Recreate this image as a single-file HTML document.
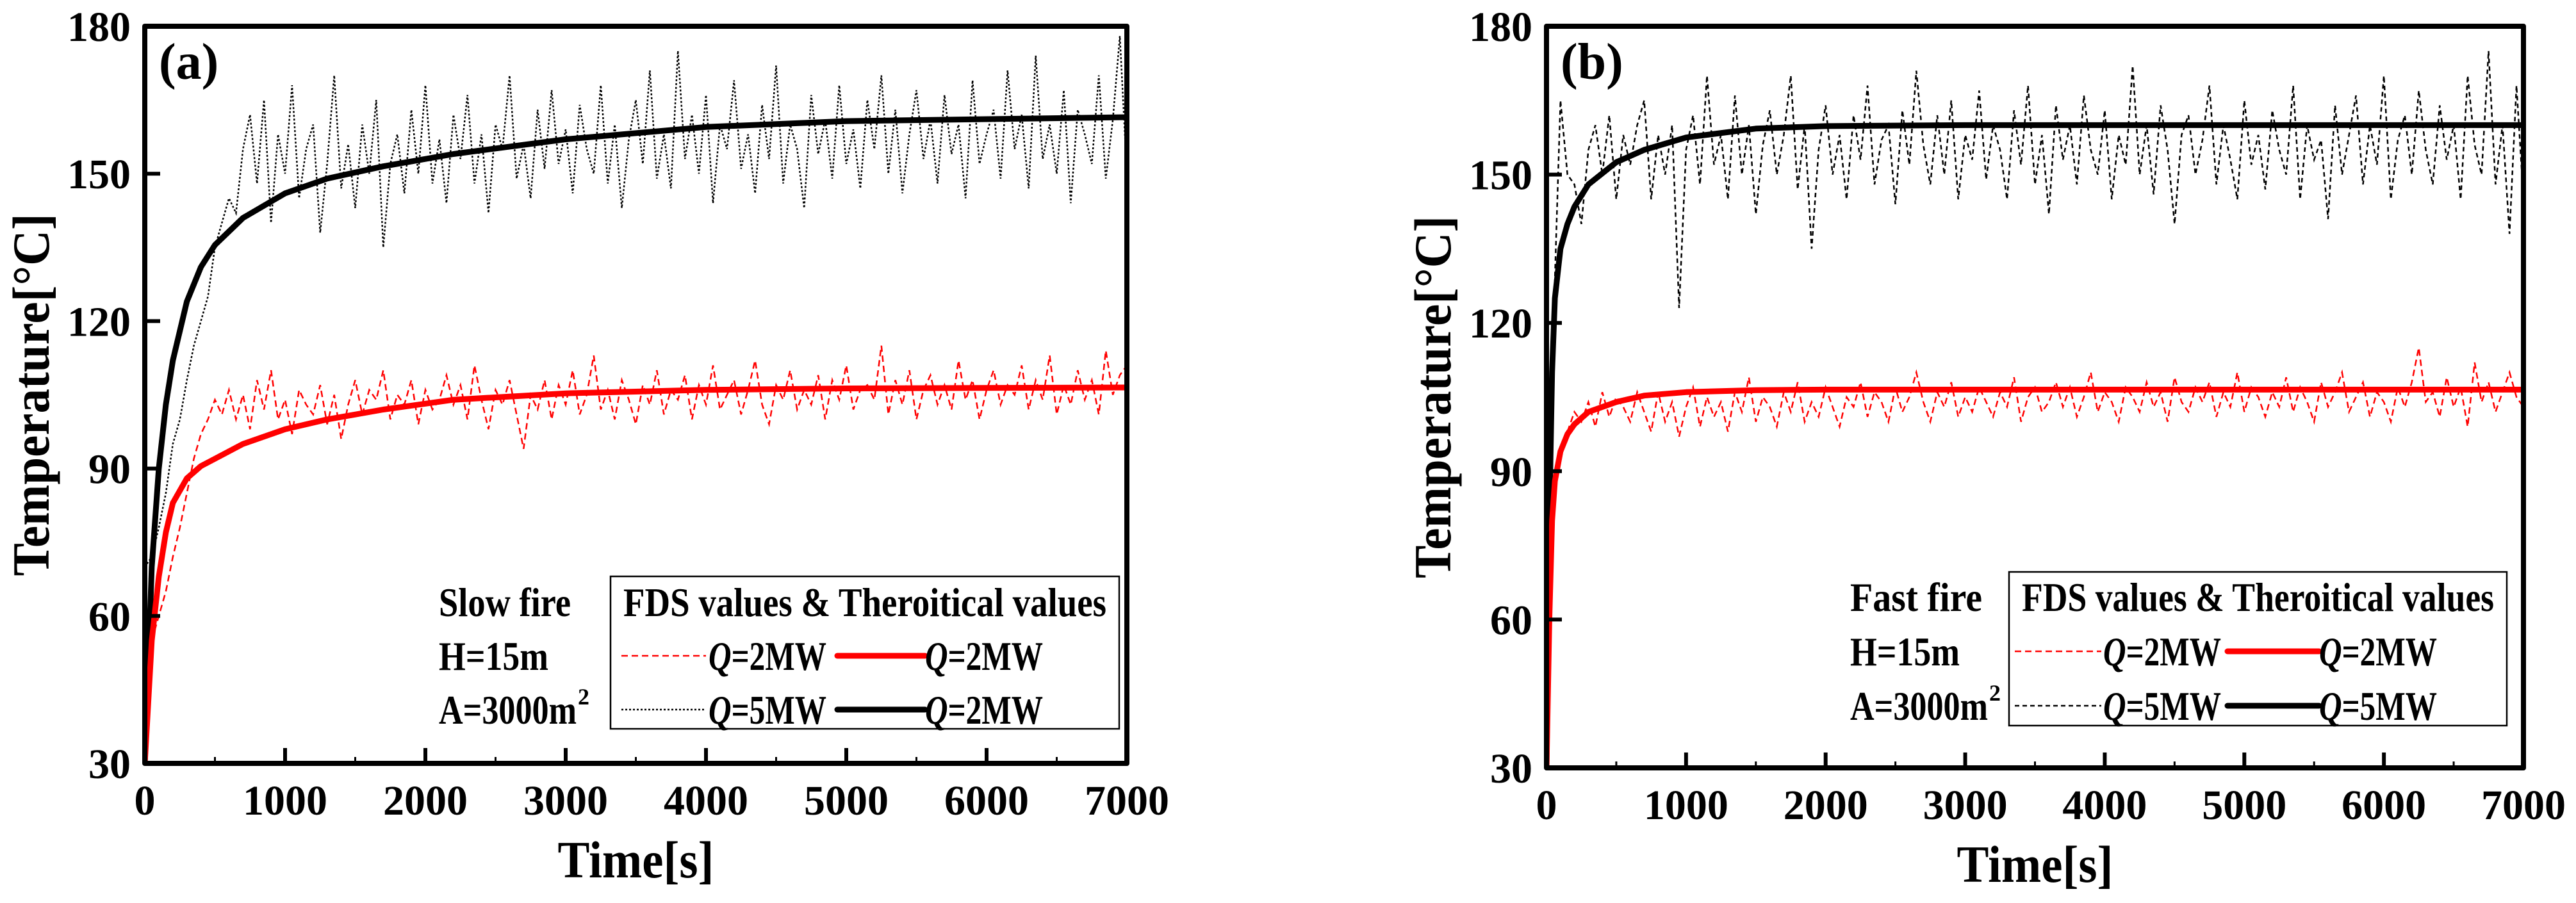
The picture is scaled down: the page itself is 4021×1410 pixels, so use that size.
<!DOCTYPE html>
<html><head><meta charset="utf-8"><style>
html,body{margin:0;padding:0;background:#fff;}
svg{display:block;font-family:"Liberation Serif",serif;}
</style></head><body>
<svg id="chart" width="4021" height="1410" viewBox="0 0 4021 1410" xmlns="http://www.w3.org/2000/svg"></svg>
<script>
// ---- data ----
const xTicks = [0,1000,2000,3000,4000,5000,6000,7000];
const yTicks = [30,60,90,120,150,180];
// FDS samples every 50 s from 0 to 7000
const fdsStep = 50;
const slow5MW = [70,72,78,85,95,100,108,115,120,125,135,140,145,142,
155,162,148,165,140,158,150,168,145,155,
160,138,152,170,147,156,143,160,150,165,
135,152,158,146,163,150,168,148,157,144,
162,153,166,148,158,142,160,155,170,149,
156,145,163,151,167,152,159,146,164,155,
150,168,148,160,143,157,165,152,171,149,
158,147,175,153,162,150,166,144,160,155,
169,151,158,146,164,153,172,148,160,155,
143,166,154,161,149,168,152,159,147,165,
155,170,150,163,146,158,167,153,161,148,
166,154,160,145,169,152,158,163,149,171,
155,162,147,174,153,160,150,167,144,163,
158,152,170,149,161,178,150];
const slow2MW = [30,55,60,65,72,78,85,92,97,100,104,101,106,100,
105,98,108,102,110,100,104,97,106,103,
101,107,99,105,96,103,108,101,106,104,
110,100,105,103,108,99,106,102,104,109,
103,107,100,111,104,98,106,103,108,101,
94,105,102,108,100,107,103,110,101,105,
113,102,106,100,108,104,99,107,103,110,
101,106,104,109,100,107,103,111,102,105,
108,101,106,112,103,99,107,104,110,102,
106,103,109,100,108,104,111,102,106,107,
104,115,101,108,103,110,100,106,109,103,
107,102,112,104,108,100,106,110,103,107,
105,111,102,108,104,113,101,107,103,110,
104,108,101,114,105,109,111];
const fast5MW = [30,120,165,150,148,140,155,160,150,162,145,158,152,160,
165,145,158,150,160,123,155,162,148,170,
152,158,145,166,150,160,142,156,163,150,
158,170,147,160,135,155,164,150,158,145,
162,153,168,148,157,160,144,163,152,171,
156,148,162,150,165,145,158,153,167,149,
160,155,145,163,152,168,148,158,142,164,
153,160,148,166,155,150,163,145,158,152,
172,150,160,146,164,155,140,158,162,150,
157,168,148,160,153,145,165,152,158,147,
163,155,150,168,145,160,153,157,141,164,
150,158,166,148,160,152,170,145,157,162,
150,167,155,148,164,153,160,145,170,156,
150,175,148,160,138,168,145];
const fast2MW = [30,85,95,98,102,100,104,99,106,101,105,103,100,106,
102,98,106,100,104,97,103,107,99,105,
101,104,98,106,102,109,100,105,103,99,
106,102,108,100,104,101,107,103,99,105,
103,108,101,106,104,100,107,102,105,110,
104,100,106,103,108,101,105,102,107,104,
101,106,103,109,100,105,107,102,104,108,
103,107,101,105,110,102,106,104,100,107,
105,102,108,103,106,100,109,104,102,107,
104,108,101,106,103,110,102,107,105,101,
106,103,109,102,107,104,100,108,103,106,
110,102,105,108,101,106,104,100,107,103,
108,115,104,106,101,109,103,107,99,112,
104,108,102,106,110,105,103];
// theoretical curves
const slowTheoT = [0,50,100,150,200,300,400,500,700,1000,1300,1700,2200,3000,4000,5000,7000];
const slowTheo2 = [30,55,68,77,83,88,90.5,92,95,98,100,102,104,105.3,106,106.3,106.5];
const slowTheo5 = [30,70,90,103,112,124,131,135.5,141,146,149,151.5,154,157,159.5,160.7,161.5];
const fastTheoT = [0,20,40,60,100,150,200,300,500,700,1000,1500,2000,3000,7000];
const fastTheo2 = [30,60,80,88,94,97.5,99.5,102,104,105.3,106,106.4,106.5,106.5,106.5];
const fastTheo5 = [30,80,110,125,135,140,143.5,148,152.5,155,157.5,159.3,159.8,160,160];

const NS = "http://www.w3.org/2000/svg";
const svg = document.getElementById('chart');
function mk(tag, attrs, parent){
  const e = document.createElementNS(NS, tag);
  for (const k in attrs) e.setAttribute(k, attrs[k]);
  (parent||svg).appendChild(e);
  return e;
}
function panel(cfg){
  const L=cfg.L,R=cfg.R,T=cfg.T,B=cfg.B;
  const g = mk('g',{});
  
  
  const xs = v => L + (v/7000)*(R-L);
  const ys = v => B - ((v-30)/150)*(B-T);
  const clip = mk('clipPath',{id:cfg.name+'-clip'},g);
  mk('rect',{x:L,y:T,width:R-L,height:B-T},clip);
  const dg = mk('g',{'clip-path':'url(#'+cfg.name+'-clip)'},g);
  function fdsLine(vals, color, dash, w, nm){
    let d='';
    vals.forEach((v,i)=>{ d += (i?'L':'M')+xs(i*fdsStep).toFixed(1)+','+ys(v).toFixed(1); });
    const p = mk('path',{d:d,fill:'none',stroke:color,'stroke-width':w,'stroke-dasharray':dash},dg);
    
    
  }
  function theoLine(ts, vals, color, nm){
    let d='';
    vals.forEach((v,i)=>{ d += (i?'L':'M')+xs(ts[i]).toFixed(1)+','+ys(v).toFixed(1); });
    const p = mk('path',{d:d,fill:'none',stroke:color,'stroke-width':9,'stroke-linejoin':'round'},dg);
    
    
  }
  fdsLine(cfg.f5,'#000',cfg.blackDash,2.5,'fds-5mw-line');
  fdsLine(cfg.f2,'#ff0000','10 6',2.5,'fds-2mw-line');
  theoLine(cfg.tt,cfg.t5,'#000','theory-5mw-line');
  theoLine(cfg.tt,cfg.t2,'#ff0000','theory-2mw-line');
  // ticks
  xTicks.forEach((t,i)=>{
    const x=xs(t);
    if(i>0 && i<xTicks.length-1) mk('line',{x1:x,y1:B,x2:x,y2:B-24,stroke:'#000','stroke-width':6},g);
    if(i<xTicks.length-1) mk('line',{x1:xs(t+500),y1:B,x2:xs(t+500),y2:B-10,stroke:'#000','stroke-width':3},g);
    const tx = mk('text',{x:x,y:B+80,'text-anchor':'middle','font-size':66,'font-weight':'bold'},g);
    tx.textContent = t;
    
    
  });
  yTicks.forEach((t,i)=>{
    const y=ys(t);
    if(i>0 && i<yTicks.length-1) mk('line',{x1:L,y1:y,x2:L+24,y2:y,stroke:'#000','stroke-width':6},g);
    const ty = mk('text',{x:L-22,y:y+23,'text-anchor':'end','font-size':66,'font-weight':'bold'},g);
    ty.textContent = t;
    
    
  });
  const fr = mk('rect',{x:L,y:T,width:R-L,height:B-T,fill:'none',stroke:'#000','stroke-width':8,'stroke-linejoin':'round'},g);
  
  
  const lab = mk('text',{x:L+22,y:T+82,'font-size':80,'font-weight':'bold'},g);
  lab.textContent = cfg.label;
  
  
  const yt = mk('text',{x:0,y:0,transform:'translate('+(L-150)+','+((T+B)/2)+') rotate(-90)','text-anchor':'middle','font-size':82,'font-weight':'bold',textLength:566,lengthAdjust:'spacingAndGlyphs'},g);
  yt.textContent = 'Temperature[°C]';
  
  
  const xt = mk('text',{x:(L+R)/2,y:B+178,'text-anchor':'middle','font-size':82,'font-weight':'bold',textLength:244,lengthAdjust:'spacingAndGlyphs'},g);
  xt.textContent = 'Time[s]';
  
  
  // annotations
  const ann = [cfg.fire,'H=15m','A=3000m'];
  const annW = [206,171,215];
  ann.forEach((s,i)=>{
    const a = mk('text',{x:cfg.annX,y:cfg.rowY[i]+22,'font-size':64,'font-weight':'bold',textLength:annW[i],lengthAdjust:'spacingAndGlyphs'},g);
    a.textContent = s;
    
    
  });
  const sup = mk('text',{x:cfg.annX+217,y:cfg.rowY[2]-8,'font-size':36,'font-weight':'bold'},g);
  sup.textContent='2';
  
  
  // legend
  const lg = mk('g',{},g);
  
  
  const lx=cfg.leg[0], ly=cfg.leg[1], lw=cfg.leg[2], lh=cfg.leg[3];
  mk('rect',{x:lx,y:ly,width:lw,height:lh,fill:'#fff',stroke:'#000','stroke-width':2.5},lg);
  const lt = mk('text',{x:lx+lw/2,y:cfg.rowY[0]+22,'text-anchor':'middle','font-size':64,'font-weight':'bold',textLength:lw-40,lengthAdjust:'spacingAndGlyphs'},lg);
  lt.textContent='FDS values & Theroitical values';
  
  
  const c = cfg.legCols;
  const rows = [['#ff0000','10 6','Q','=2MW','=2MW'],['#000',cfg.blackDash,'Q','=5MW',cfg.theo5Label]];
  rows.forEach((r,i)=>{
    const y = cfg.rowY[i+1];
    mk('line',{x1:c[0],y1:y,x2:c[1],y2:y,stroke:r[0],'stroke-width':2.5,'stroke-dasharray':r[1]},lg);
    mk('line',{x1:c[3],y1:y,x2:c[4],y2:y,stroke:r[0],'stroke-width':9,'stroke-linecap':'round'},lg);
    [[c[2],r[3]],[c[5],r[4]]].forEach(p=>{
      const t = mk('text',{x:p[0],y:y+22,'font-size':64,'font-weight':'bold',textLength:184,lengthAdjust:'spacingAndGlyphs'},lg);
      const q = mk('tspan',{'font-style':'italic'},t); q.textContent='Q';
      const rest = mk('tspan',{},t); rest.textContent=p[1];
      
      
    });
  });
}
panel({name:'panel-a-slow-fire',label:'(a)',L:226,R:1759,T:41,B:1192,f5:slow5MW,f2:slow2MW,tt:slowTheoT,t5:slowTheo5,t2:slowTheo2,
  blackDash:'3 3',fire:'Slow fire',annX:685,rowY:[940,1024,1108],leg:[953,900,794,238],
  legCols:[970,1102,1106,1307,1444,1444],theo5Label:'=2MW'});
panel({name:'panel-b-fast-fire',label:'(b)',L:2414,R:3939,T:41,B:1199,f5:fast5MW,f2:fast2MW,tt:fastTheoT,t5:fastTheo5,t2:fastTheo2,
  blackDash:'7 5',fire:'Fast fire',annX:2888,rowY:[932,1017,1102],leg:[3136,893,777,240],
  legCols:[3145,3280,3283,3477,3620,3620],theo5Label:'=5MW'});
</script>
</body></html>
